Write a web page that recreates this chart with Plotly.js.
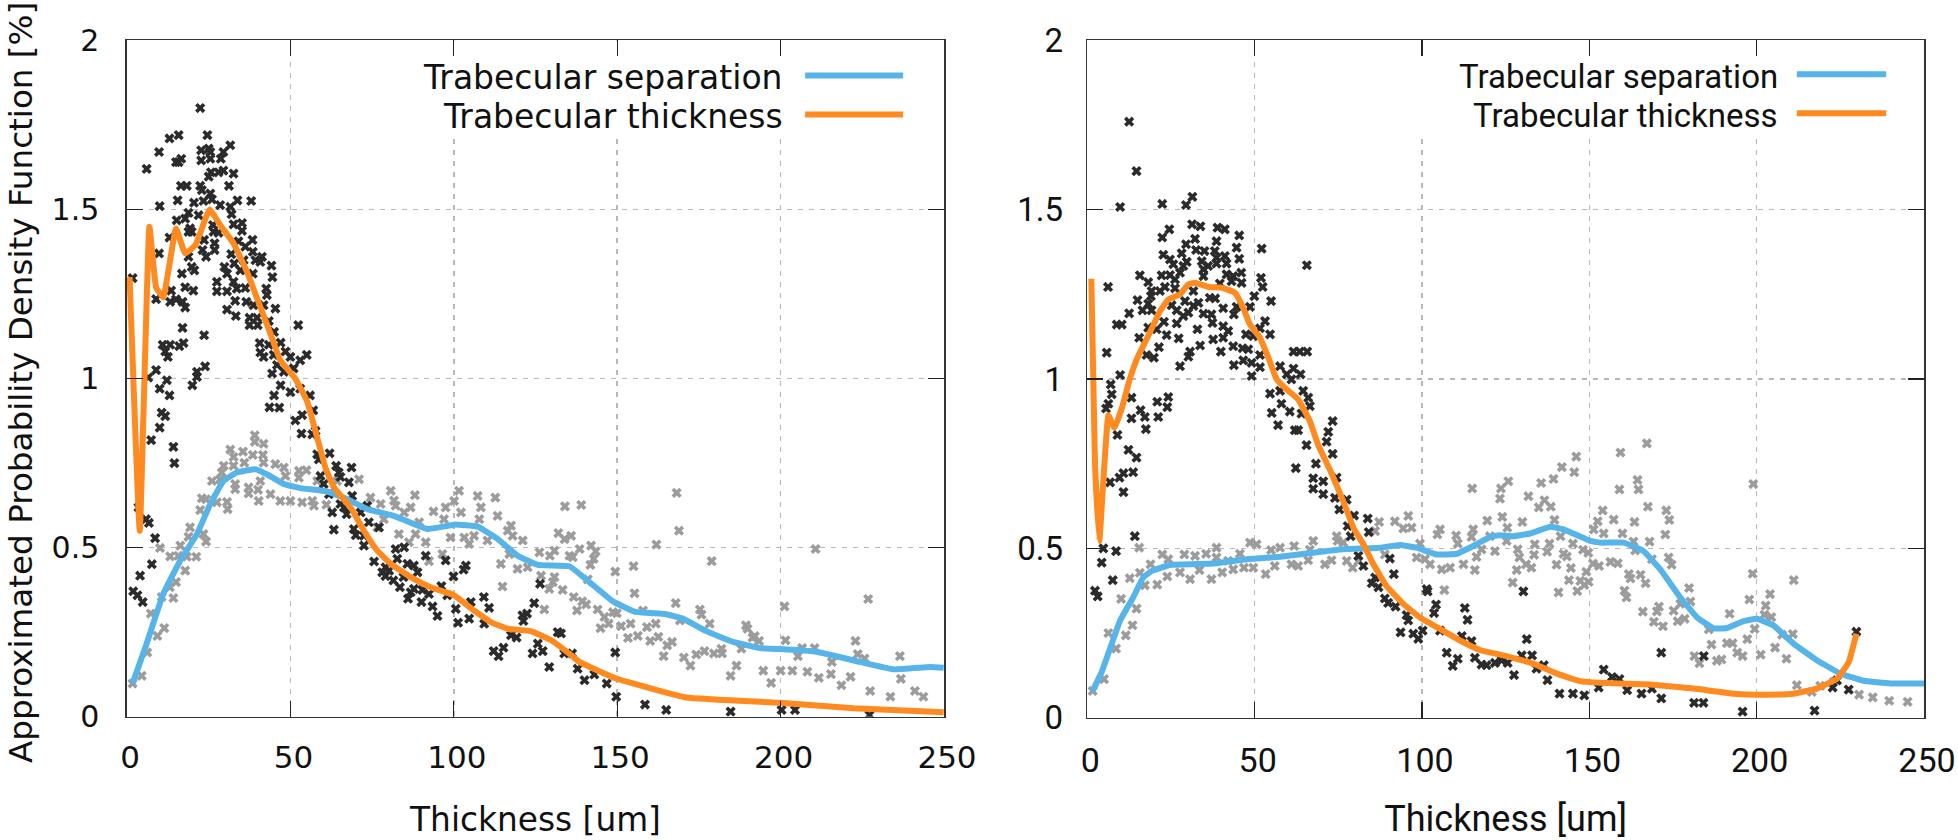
<!DOCTYPE html>
<html><head><meta charset="utf-8">
<script src="https://cdn.plot.ly/plotly-3.0.1.min.js"></script>
<style>html,body{margin:0;padding:0;background:#fff}#c{width:1958px;height:840px}</style>
</head><body><div id="c"></div>
<script>
const seriesNames=["Trabecular separation","Trabecular thickness"];
const xTicks=[0,50,100,150,200,250];
const yTicks=[0,0.5,1,1.5,2];
const yTickText=["0","0.5","1","1.5","2"];

const leftThicknessPts=[[22.4,1.8],[13,1.71],[15.8,1.72],[24.6,1.72],[9.8,1.67],[31.6,1.69],[22.7,1.675],[25,1.68],[25.5,1.67],[29.5,1.67],[15.8,1.64],[15,1.64],[16.6,1.65],[22.7,1.645],[25.5,1.65],[28.7,1.65],[6,1.62],[32.6,1.606],[25.7,1.61],[28,1.61],[29.5,1.615],[25,1.597],[16.5,1.57],[18.3,1.57],[31.2,1.57],[22.4,1.57],[25.5,1.547],[22.9,1.557],[26,1.53],[15.5,1.527],[23.4,1.525],[33.8,1.527],[38,1.525],[10,1.51],[20.5,1.52],[28.5,1.513],[31.6,1.508],[18.8,1.49],[17.8,1.473],[21.9,1.483],[32,1.486],[15.2,1.468],[35.2,1.46],[32.6,1.456],[35.2,1.437],[19.3,1.444],[18.8,1.434],[19.8,1.434],[26.3,1.454],[26.5,1.434],[28,1.431],[13,1.417],[38.4,1.41],[34.1,1.406],[36.2,1.39],[23.6,1.41],[26.8,1.4],[26.8,1.38],[9.8,1.37],[23.1,1.38],[24.2,1.36],[18.8,1.36],[38.5,1.375],[41.3,1.36],[39.3,1.35],[40.8,1.345],[31.9,1.368],[35.7,1.35],[32.8,1.34],[44.2,1.334],[19.8,1.33],[20.6,1.32],[29.8,1.33],[30.6,1.31],[16.8,1.31],[38.5,1.31],[44.5,1.3],[34.7,1.32],[1.7,1.297],[27.5,1.286],[32.6,1.286],[17.8,1.27],[20.3,1.26],[13.5,1.26],[27.5,1.258],[30.6,1.258],[33.6,1.266],[36.2,1.268],[42.6,1.266],[42.8,1.247],[8.9,1.235],[13.2,1.227],[15,1.234],[17,1.227],[17.8,1.21],[33.1,1.23],[36.5,1.227],[38.7,1.217],[41.8,1.217],[45.4,1.207],[30.6,1.204],[33.3,1.185],[37.5,1.18],[39.8,1.18],[43.4,1.17],[37.5,1.158],[40,1.158],[52.4,1.158],[17,1.15],[23.6,1.128],[45,1.138],[47,1.106],[40.6,1.105],[43.4,1.1],[10.9,1.1],[13.2,1.1],[16,1.096],[17.3,1.105],[11.7,1.08],[12.5,1.064],[40.8,1.077],[41.8,1.064],[44.9,1.07],[48.5,1.08],[50,1.064],[55,1.07],[53,1.054],[8.9,1.025],[23.9,1.036],[21.4,1.02],[21.4,1.005],[45.9,1.04],[51,1.03],[44.4,1.015],[48,1.02],[6.5,1.003],[12.2,0.995],[47,0.98],[50,0.96],[53,0.97],[56,0.95],[45,0.95],[10,0.97],[13,0.95],[20,0.98],[43.6,0.915],[46.6,0.914],[51.5,0.876],[53.6,0.892],[57,0.906],[10.6,0.899],[11.7,0.889],[10,0.855],[7.4,0.818],[14.2,0.798],[14.5,0.75],[53.4,0.837],[56.7,0.835],[57.7,0.845],[62,0.779],[58.2,0.776],[58.7,0.761],[64,0.742],[68.7,0.737],[64.8,0.722],[59.2,0.712],[65.3,0.709],[67.9,0.693],[60.2,0.688],[61.8,0.658],[68.9,0.653],[3.5,0.619],[65.3,0.629],[66.4,0.619],[73.5,0.624],[62.8,0.604],[67.2,0.599],[71.5,0.604],[5.8,0.584],[6.7,0.573],[63.3,0.553],[69.4,0.555],[74,0.575],[77.1,0.56],[70,0.537],[72.5,0.535],[8.6,0.528],[72.5,0.506],[82.2,0.496],[84.8,0.501],[91.4,0.476],[97.5,0.462],[7.6,0.451],[75.6,0.459],[82.7,0.467],[85.8,0.452],[87.8,0.447],[103.7,0.447],[103,0.435],[79.1,0.442],[78.1,0.427],[80.2,0.432],[88.9,0.427],[4,0.417],[99.9,0.415],[79.1,0.416],[81.5,0.403],[84.6,0.413],[1.9,0.371],[3.2,0.359],[4.8,0.339],[126.4,0.393],[83.5,0.383],[87.8,0.378],[86.8,0.368],[90.4,0.375],[96.2,0.386],[92.4,0.363],[86,0.349],[90.1,0.339],[98,0.359],[109.2,0.354],[124.6,0.336],[100.6,0.319],[93.5,0.326],[105.2,0.339],[110.8,0.322],[95,0.298],[104.7,0.29],[109.3,0.275],[101.3,0.278],[121,0.3],[122.4,0.305],[121.3,0.283],[117.5,0.241],[119.2,0.234],[131.8,0.25],[132.8,0.246],[112.2,0.194],[115.2,0.204],[113.7,0.179],[125.7,0.216],[124.1,0.187],[127.2,0.194],[129.2,0.147],[133.8,0.187],[136.2,0.187],[137.9,0.142],[140,0.108],[143,0.125],[146.8,0.098],[149.4,0.19],[149.7,0.059],[158.5,0.036],[165,0.02],[184.7,0.015],[200.3,0.02],[204.4,0.02],[227.2,0.005]];

const leftSeparationPts=[[1.7,0.098],[4.5,0.121],[6.2,0.19],[9.3,0.239],[11.4,0.262],[7.3,0.305],[14.2,0.351],[10.6,0.354],[13.1,0.383],[15,0.398],[17.8,0.432],[13.2,0.474],[10.1,0.499],[16.3,0.506],[15.7,0.476],[18.3,0.473],[21.2,0.473],[18.8,0.532],[19.3,0.56],[23.4,0.54],[24.2,0.518],[22.4,0.611],[22.9,0.646],[24.2,0.643],[27.5,0.634],[30.6,0.635],[30.8,0.614],[26,0.697],[29.6,0.742],[29,0.722],[28.5,0.702],[33.1,0.688],[33.1,0.673],[37.2,0.678],[37.2,0.66],[40.1,0.671],[40.3,0.638],[31.6,0.79],[32.6,0.768],[35.5,0.784],[35.9,0.751],[32.6,0.742],[38.5,0.774],[39.1,0.832],[39.1,0.813],[41.8,0.807],[41.6,0.774],[41.8,0.751],[45.4,0.747],[48,0.737],[48.5,0.712],[40.8,0.697],[43.9,0.658],[46.9,0.638],[50,0.638],[53.6,0.634],[56.7,0.638],[57.2,0.624],[52.6,0.727],[54.9,0.729],[52.6,0.707],[58.2,0.697],[64.3,0.697],[71,0.702],[61,0.627],[74.5,0.648],[77.6,0.629],[80.7,0.668],[81.7,0.639],[82.2,0.624],[88.1,0.655],[86.8,0.619],[84.8,0.604],[78.6,0.584],[76.6,0.56],[83.2,0.54],[89.4,0.575],[88.3,0.54],[86.3,0.516],[91.4,0.516],[93.8,0.607],[97.5,0.619],[97,0.584],[100.1,0.638],[101.6,0.668],[102.2,0.604],[99,0.53],[96.5,0.481],[92.4,0.46],[107.3,0.653],[108.3,0.619],[112.7,0.648],[113.4,0.594],[107.8,0.584],[103.2,0.53],[104.7,0.511],[106.2,0.535],[110.3,0.521],[117.5,0.565],[116.5,0.55],[121.1,0.521],[118,0.535],[117,0.481],[114.4,0.452],[119.5,0.437],[122.6,0.442],[126.2,0.486],[130.8,0.491],[129.4,0.476],[135.4,0.476],[134,0.622],[132,0.543],[133.9,0.525],[126.7,0.417],[130.8,0.413],[130.3,0.398],[129.2,0.378],[133.3,0.375],[114.9,0.385],[127.7,0.317],[139,0.626],[135.9,0.535],[138.5,0.496],[142,0.506],[143.4,0.489],[136.4,0.472],[141.8,0.449],[142.8,0.467],[149.4,0.429],[155,0.445],[162,0.509],[141,0.406],[136.7,0.354],[139.3,0.341],[140.5,0.332],[137.7,0.314],[144,0.317],[146.1,0.295],[148.7,0.309],[149.9,0.306],[144.9,0.262],[147.4,0.275],[151.2,0.268],[154.1,0.275],[155.3,0.365],[157.9,0.314],[159.1,0.265],[161.8,0.275],[153.3,0.233],[156.3,0.239],[160.1,0.224],[162.6,0.236],[165.3,0.211],[166.8,0.221],[164.2,0.179],[167.9,0.336],[168.2,0.662],[168.9,0.55],[178.9,0.46],[169.2,0.285],[175.3,0.317],[175.8,0.302],[178.3,0.275],[170.4,0.175],[172.4,0.151],[174.2,0.184],[176.7,0.194],[179.6,0.187],[181.9,0.201],[182.1,0.187],[184.7,0.121],[186.5,0.151],[188,0.201],[189.4,0.27],[189.9,0.26],[191.4,0.234],[193.4,0.224],[192.1,0.238],[194.7,0.136],[197.1,0.1],[200,0.136],[201.2,0.326],[201.5,0.226],[203.6,0.136],[205.3,0.179],[206.6,0.203],[208.2,0.133],[210.7,0.496],[210.4,0.203],[211.7,0.115],[215.4,0.126],[215.7,0.162],[218.6,0.093],[221.4,0.118],[222.9,0.224],[223.6,0.185],[225.7,0.172],[226.8,0.348],[227.4,0.076],[233.6,0.059],[236.5,0.179],[236.8,0.112],[241.1,0.076],[243.7,0.059]];

const leftThicknessLine=[[0.8,1.3],[3.9,0.55],[6.85,1.449],[8.9,1.27],[11.1,1.24],[15,1.444],[17.8,1.37],[20.9,1.394],[25.3,1.5],[28.5,1.454],[32.6,1.4],[36.7,1.316],[40.8,1.212],[43.9,1.133],[46.9,1.054],[51.5,1],[55.1,0.933],[58.2,0.825],[60.7,0.737],[63.3,0.678],[68.4,0.619],[72.5,0.55],[76.6,0.491],[80.7,0.452],[86.8,0.413],[92.9,0.383],[100.1,0.359],[106.2,0.314],[111.3,0.28],[116.5,0.26],[123.6,0.253],[129.8,0.226],[135.9,0.182],[138.4,0.162],[149.7,0.113],[171.2,0.057],[199.8,0.041],[222.3,0.025],[249.9,0.013]];

const leftSeparationLine=[[1.7,0.098],[6,0.216],[11.1,0.363],[16.3,0.462],[21.4,0.54],[25.5,0.629],[29.5,0.697],[33.6,0.722],[39.3,0.732],[42.8,0.717],[48,0.688],[53.1,0.676],[61.2,0.666],[67.4,0.643],[73.5,0.614],[81.7,0.594],[91.9,0.555],[100.1,0.568],[107.3,0.562],[113.4,0.526],[119.5,0.476],[125.7,0.449],[135.4,0.445],[141.5,0.398],[148.7,0.341],[155.3,0.311],[165,0.303],[170.1,0.29],[177.3,0.253],[185.5,0.221],[193.7,0.203],[203.9,0.198],[211,0.192],[224.3,0.162],[234.6,0.14],[245.8,0.147],[249.9,0.145]];

const rightThicknessPts=[[12.5,1.76],[14.7,1.614],[9.8,1.508],[22.4,1.517],[29.5,1.514],[31.4,1.538],[31.3,1.457],[33.8,1.451],[24.5,1.442],[22.4,1.418],[38.9,1.447],[41.1,1.442],[45.4,1.424],[38.6,1.407],[32.2,1.414],[29.5,1.398],[52.1,1.385],[44.6,1.388],[32.5,1.381],[35,1.378],[28.2,1.371],[38.1,1.378],[22.7,1.367],[45.4,1.355],[38.6,1.358],[41.1,1.363],[24.7,1.353],[29.7,1.346],[34.2,1.348],[25.7,1.339],[28.7,1.334],[36.1,1.334],[38.6,1.341],[41.6,1.341],[65.6,1.336],[34.7,1.324],[46,1.314],[22.2,1.306],[15.7,1.306],[24.7,1.307],[27.7,1.314],[41.6,1.309],[43.6,1.304],[34.7,1.304],[26.2,1.294],[51.9,1.299],[18.2,1.286],[43.1,1.289],[46.1,1.284],[6.2,1.272],[23.2,1.272],[52.4,1.272],[26.2,1.268],[39.6,1.282],[21.7,1.26],[19.2,1.26],[31.7,1.26],[19,1.245],[49.9,1.245],[36.6,1.24],[38.2,1.238],[15,1.233],[29.2,1.23],[54.9,1.23],[18.2,1.222],[33.2,1.225],[31.7,1.216],[25.2,1.218],[48.6,1.213],[44.6,1.213],[40.6,1.209],[16.5,1.203],[19.2,1.203],[26.7,1.203],[30.2,1.196],[12.5,1.194],[34.7,1.193],[37.1,1.191],[43.8,1.191],[28.7,1.186],[53.1,1.171],[8.8,1.161],[10.3,1.161],[22.9,1.169],[26.7,1.164],[37.4,1.166],[40.6,1.156],[32.9,1.147],[18.2,1.152],[20.7,1.147],[42.1,1.142],[51.6,1.15],[23.7,1.13],[15.5,1.122],[27.3,1.12],[37.6,1.117],[40.6,1.122],[47.4,1.132],[49.6,1.127],[54.6,1.132],[33.7,1.099],[21.4,1.094],[43.6,1.097],[46.4,1.091],[48.1,1.088],[39.9,1.081],[5.8,1.078],[61.6,1.081],[63.5,1.081],[65.7,1.081],[30.7,1.081],[17.7,1.071],[19.9,1.063],[30.2,1.066],[51.6,1.071],[46.6,1.055],[49.1,1.048],[43.8,1.041],[27.7,1.038],[51.6,1.035],[57.6,1.038],[61.6,1.031],[9.8,1.012],[63.7,1.014],[49.1,1.009],[59.6,1.014],[61,0.999],[7,0.984],[57.6,0.965],[54.6,0.957],[64.5,0.965],[66,0.945],[7.3,0.955],[24.2,0.947],[13.2,0.945],[20.9,0.933],[23.9,0.917],[6.3,0.927],[5.6,0.913],[66.5,0.92],[55.1,0.9],[58,0.927],[60.5,0.904],[64,0.898],[15.9,0.908],[17.2,0.888],[21.2,0.888],[13.2,0.884],[17.5,0.852],[9,0.835],[12.3,0.791],[14.7,0.768],[13.7,0.725],[10.8,0.722],[9.6,0.709],[6.8,0.695],[10.8,0.666],[14.2,0.536],[4.8,0.5],[8.6,0.492],[4.3,0.458],[7.6,0.406],[2.3,0.375],[3.1,0.358],[57,0.864],[62,0.849],[63,0.849],[73.3,0.876],[72,0.844],[71.5,0.815],[65.5,0.805],[73.3,0.779],[68.3,0.75],[62.3,0.737],[67.5,0.707],[70.5,0.698],[67.5,0.676],[70.5,0.66],[74.5,0.709],[74,0.649],[77.5,0.644],[75.3,0.615],[79.7,0.597],[83.8,0.588],[77.8,0.566],[84.1,0.548],[78.7,0.536],[81,0.478],[90.4,0.47],[82.5,0.448],[91.6,0.424],[86,0.414],[85,0.397],[87,0.385],[88.9,0.352],[89.9,0.339],[92.1,0.328],[95.4,0.303],[95.9,0.287],[93.6,0.252],[97.4,0.248],[98.9,0.233],[100.2,0.257],[101.4,0.38],[101.7,0.373],[104.2,0.334],[103.6,0.309],[105.4,0.257],[112.8,0.324],[113.6,0.289],[111.9,0.241],[114.8,0.226],[130.3,0.373],[107.4,0.192],[110.7,0.174],[109.2,0.153],[115.8,0.177],[117.8,0.157],[119.3,0.155],[121.8,0.162],[123.8,0.169],[125.6,0.162],[127.5,0.126],[129.8,0.184],[131.3,0.232],[132.9,0.184],[134.2,0.145],[136.4,0.155],[137.5,0.111],[141.1,0.071],[145.1,0.071],[148.5,0.066],[152.8,0.089],[154.3,0.142],[156.8,0.12],[159,0.114],[161.3,0.081],[165.6,0.071],[168.7,0.086],[171.5,0.192],[171.5,0.057],[181.3,0.044],[184.1,0.044],[184.2,0.182],[195.8,0.018],[217.3,0.021],[222.7,0.089],[227.5,0.083],[229.8,0.254],[224,0.11]];

const rightSeparationPts=[[1.6,0.079],[5,0.114],[8.6,0.204],[11.5,0.243],[6.3,0.25],[13.5,0.273],[14.7,0.322],[10.1,0.351],[12.7,0.412],[15.7,0.428],[15.5,0.502],[17.2,0.391],[20.9,0.393],[23.9,0.417],[18.9,0.453],[22.4,0.482],[24.2,0.468],[27.7,0.429],[29,0.482],[32.2,0.478],[30.7,0.409],[33.5,0.436],[35.5,0.484],[37.1,0.409],[38.6,0.502],[38.6,0.473],[40.3,0.429],[43.6,0.438],[42.1,0.463],[45.6,0.484],[48.6,0.517],[50.6,0.512],[46.8,0.443],[49.6,0.443],[53.3,0.424],[54.9,0.495],[57.6,0.502],[56,0.448],[61.8,0.507],[61,0.453],[63,0.448],[66,0.465],[67.5,0.522],[66.5,0.496],[71,0.453],[73,0.465],[74.5,0.536],[74.8,0.522],[76.5,0.517],[77.5,0.463],[79.3,0.443],[81,0.463],[86,0.551],[87.2,0.578],[91.9,0.58],[95.9,0.596],[94.4,0.559],[96.9,0.561],[88.9,0.482],[99.4,0.514],[98.4,0.473],[102.4,0.453],[100.9,0.468],[105.4,0.556],[104.6,0.541],[110.2,0.538],[110.7,0.514],[105.9,0.438],[108.4,0.443],[112.4,0.453],[115.8,0.436],[106.7,0.377],[115.3,0.556],[114.8,0.534],[115,0.677],[119.5,0.582],[117.8,0.497],[116.3,0.475],[121.8,0.492],[120.3,0.536],[124,0.593],[123.3,0.647],[123.6,0.677],[125.8,0.698],[125.5,0.561],[125.3,0.522],[127.1,0.399],[128.3,0.436],[129.1,0.473],[130,0.578],[131.8,0.654],[131.1,0.453],[128.6,0.497],[132.7,0.443],[134.9,0.621],[136.6,0.642],[138.5,0.623],[135.6,0.693],[139.3,0.705],[141.8,0.74],[145.5,0.725],[146.1,0.771],[159.3,0.783],[167.2,0.81],[164.4,0.702],[164.7,0.674],[159,0.674],[154,0.612],[157.3,0.585],[152.5,0.58],[167.5,0.623],[173,0.612],[173.9,0.584],[163.5,0.578],[172.7,0.541],[151.3,0.556],[139.6,0.584],[154.3,0.544],[159.9,0.544],[141.4,0.536],[133.7,0.512],[138.1,0.514],[133.5,0.481],[137.4,0.49],[142.3,0.484],[143.3,0.476],[145.1,0.514],[148.1,0.496],[149.7,0.487],[140.2,0.452],[144.5,0.442],[151.1,0.455],[152.9,0.448],[156.3,0.46],[158.5,0.456],[163.2,0.52],[168,0.52],[163.7,0.494],[149.1,0.431],[147.3,0.404],[149.8,0.401],[148.5,0.392],[143.9,0.406],[146.4,0.374],[140.8,0.37],[161.8,0.424],[162.3,0.411],[165.3,0.422],[166.8,0.397],[173.7,0.473],[174.6,0.452],[168.7,0.468],[160.5,0.375],[161.1,0.355],[179.8,0.383],[180.2,0.343],[175.2,0.316],[177.2,0.336],[170.8,0.328],[170.2,0.314],[166,0.313],[169.3,0.283],[172,0.27],[176.4,0.285],[178.5,0.292],[185.7,0.261],[191.9,0.307],[198.8,0.425],[197.8,0.349],[199,0.69],[202.7,0.331],[204,0.365],[202.3,0.304],[204.4,0.297],[211.1,0.406],[199.4,0.262],[207.6,0.245],[210.8,0.247],[197.2,0.232],[191.1,0.22],[192.8,0.22],[186.5,0.216],[205.5,0.207],[194.2,0.192],[195.8,0.182],[201.2,0.186],[208.9,0.174],[181.4,0.182],[182.9,0.161],[188.1,0.168],[189.5,0.172],[212,0.096],[216.5,0.076],[219,0.094],[223,0.106],[230.6,0.068],[234.7,0.06],[239.6,0.05],[245.1,0.047]];

const rightThicknessLine=[[1.2,1.296],[2.3,0.75],[3.6,0.522],[4.8,0.7],[6.3,0.893],[8.1,0.856],[10.3,0.913],[12.7,1],[15.2,1.068],[18.2,1.127],[21.7,1.2],[24.2,1.235],[27.7,1.25],[30.2,1.28],[32.2,1.284],[36.2,1.272],[40.1,1.27],[44.1,1.255],[46.6,1.21],[48.6,1.161],[51.6,1.122],[54.1,1.063],[56.6,0.999],[59.6,0.969],[63,0.94],[66.5,0.876],[69,0.805],[72.5,0.732],[76.5,0.639],[79.5,0.561],[82.5,0.512],[85.5,0.453],[89.4,0.389],[94.4,0.336],[99.4,0.296],[105.4,0.262],[111.4,0.228],[117.3,0.2],[124.3,0.184],[133.4,0.159],[140.3,0.13],[147.3,0.108],[153.3,0.103],[168.2,0.098],[181.2,0.086],[193.2,0.071],[203.1,0.068],[211,0.071],[218,0.086],[224,0.115],[227.5,0.164],[229.8,0.248]];

const rightSeparationLine=[[1.6,0.079],[4.3,0.135],[7.3,0.218],[9.8,0.287],[13.7,0.355],[16.7,0.414],[19.2,0.433],[24.7,0.451],[37.6,0.455],[47.6,0.468],[57.6,0.475],[67.5,0.487],[75.5,0.497],[87.4,0.502],[93.4,0.51],[98.4,0.502],[104.4,0.482],[110.4,0.484],[115.3,0.507],[120.3,0.533],[123.3,0.539],[127.3,0.536],[132.3,0.544],[138.4,0.564],[142.3,0.556],[150.3,0.522],[153.3,0.517],[160.3,0.517],[166.2,0.492],[171.2,0.438],[177.2,0.355],[182.2,0.296],[187.2,0.264],[191.2,0.265],[196.1,0.285],[200.1,0.292],[205.1,0.272],[211.1,0.218],[218.1,0.169],[225.1,0.13],[232,0.109],[240,0.101],[250,0.101]];

const blue="#56b4e9", orange="#ff8a1f", black="#2b2b2b", grey="#9c9c9c", gridC="#b8b8b8", ink="#111";
const dejavu="DejaVu Sans", roboto="Roboto";
const yTitleText="Approximated Probability Density Function [%]";
const W=1958,H=840;
function scat(p,c,xa,ya){return {type:"scatter",mode:"markers",x:p.map(a=>a[0]),y:p.map(a=>a[1]),xaxis:xa,yaxis:ya,showlegend:false,hoverinfo:"skip",
  marker:{symbol:"x",size:9,color:c,line:{width:0}}};}
function line(p,c,xa,ya,name){return {type:"scatter",mode:"lines",name:name,x:p.map(a=>a[0]),y:p.map(a=>a[1]),xaxis:xa,yaxis:ya,showlegend:false,hoverinfo:"skip",
  line:{color:c,width:6,shape:"spline",smoothing:0.3}};}
const data=[
 scat(leftSeparationPts,grey,"x","y"),scat(leftThicknessPts,black,"x","y"),
 line(leftSeparationLine,blue,"x","y",seriesNames[0]),line(leftThicknessLine,orange,"x","y",seriesNames[1]),
 scat(rightSeparationPts,grey,"x2","y2"),scat(rightThicknessPts,black,"x2","y2"),
 line(rightSeparationLine,blue,"x2","y2",seriesNames[0]),line(rightThicknessLine,orange,"x2","y2",seriesNames[1])
];
function xax(dom,font,anchor,tickSize,titleSize,standoff){return {domain:dom,range:[0,250],anchor:anchor,tickvals:xTicks,ticks:"inside",ticklen:16,tickwidth:1.4,tickcolor:"#222",
  showline:true,linecolor:"#333",linewidth:1.7,mirror:"ticks",showgrid:true,gridcolor:gridC,griddash:"5px,6px",gridwidth:1.5,zeroline:false,
  tickfont:{family:font,size:tickSize,color:ink},ticklabelstandoff:12,ticklabelshift:3,automargin:false,
  title:{text:"Thickness [um]",font:{family:font,size:titleSize,color:ink},standoff:standoff}};}
function yax(dom,font,anchor,tickSize){return {domain:dom,range:[0,2],anchor:anchor,tickvals:yTicks,ticktext:yTickText,ticks:"inside",ticklen:16,tickwidth:1.4,tickcolor:"#222",
  showline:true,linecolor:"#333",linewidth:1.7,mirror:"ticks",showgrid:true,gridcolor:gridC,griddash:"5px,6px",gridwidth:1.5,zeroline:false,
  tickfont:{family:font,size:tickSize,color:ink},ticklabelstandoff:font==dejavu?20:16,automargin:false};}
function legendParts(xr,yr,textX,lx0,lx1,y0,y1,maskX,maskY,font,size){
  const sh=[
   {type:"rect",layer:"between",xref:xr,yref:yr,x0:maskX,x1:250,y0:maskY,y1:2,fillcolor:"#fff",line:{width:0}},
   {type:"line",layer:"above",xref:xr,yref:yr,x0:lx0,x1:lx1,y0:y0,y1:y0,line:{color:blue,width:6}},
   {type:"line",layer:"above",xref:xr,yref:yr,x0:lx0,x1:lx1,y0:y1,y1:y1,line:{color:orange,width:6}}];
  const an=[[seriesNames[0],y0],[seriesNames[1],y1]].map(t=>({text:t[0],xref:xr,yref:yr,x:textX,y:t[1],yshift:-2,xanchor:"right",yanchor:"middle",showarrow:false,font:{family:font,size:size,color:ink}}));
  return [sh,an];}
const L=legendParts("x","y",201.2,207.5,237.5,1.896,1.781,95,1.715,dejavu,33);
const R=legendParts("x2","y2",206.9,212,238.7,1.9,1.785,95,1.717,roboto,33);
const yTitle={text:yTitleText,textangle:-90,xref:"paper",yref:"paper",x:21/W,y:1-383/H,xanchor:"center",yanchor:"middle",showarrow:false,borderpad:0,font:{family:dejavu,size:32.6,color:ink}};
const layout={width:W,height:H,margin:{l:0,r:0,t:0,b:0},paper_bgcolor:"#fff",plot_bgcolor:"#fff",showlegend:false,
 xaxis:xax([127/W,944/W],dejavu,"y",31,32.8,34),
 yaxis:yax([1-716.7/H,1-40.4/H],dejavu,"x",30),
 xaxis2:xax([1087.3/W,1924/W],roboto,"y2",34,36,30),
 yaxis2:yax([1-717.7/H,1-40.4/H],roboto,"x2",33),
 shapes:L[0].concat(R[0]),annotations:L[1].concat(R[1]).concat([yTitle])};
Plotly.newPlot("c",data,layout,{staticPlot:true,displayModeBar:false});
</script></body></html>
